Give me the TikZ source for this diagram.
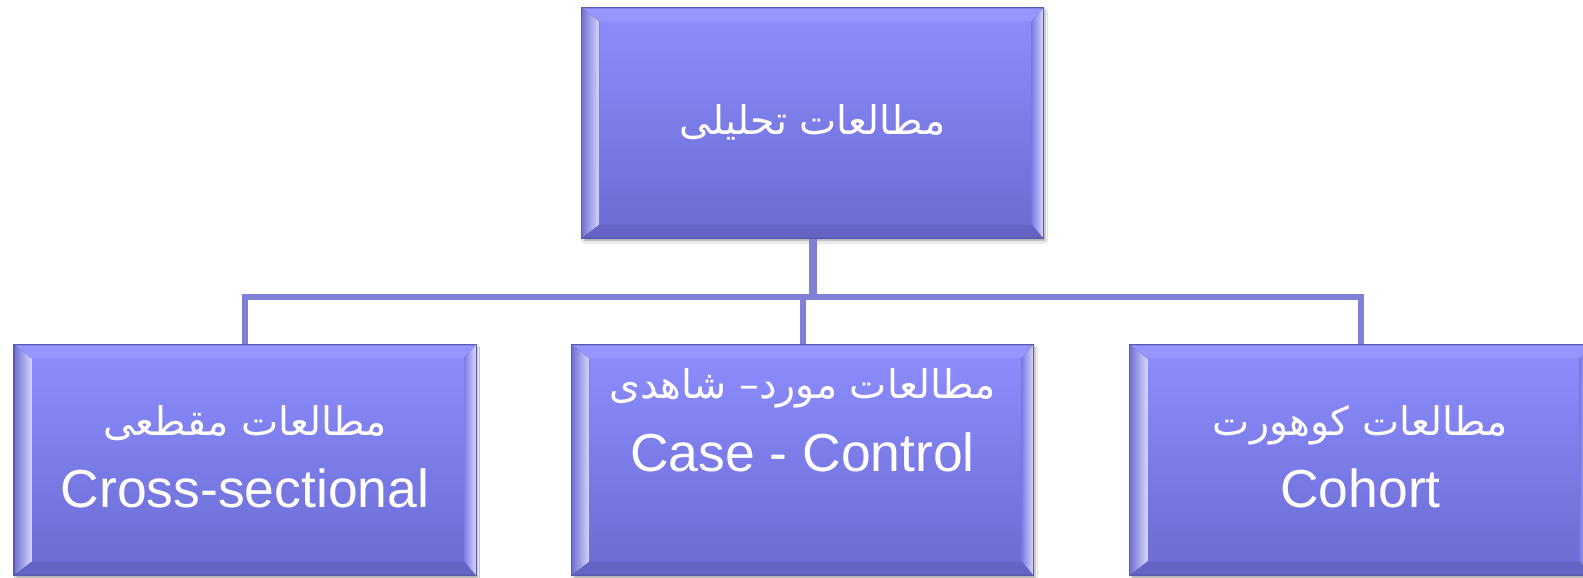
\documentclass[tikz,border=0pt]{standalone}
\usepackage{fontspec}
\setmainfont{Liberation Sans}
\newfontfamily\arabicfont[Script=Arabic]{DejaVu Sans}
\TeXXeTstate=1
\usetikzlibrary{calc,shadows.blur}
\definecolor{boxtop}{HTML}{8D8DFF}
\definecolor{boxbot}{HTML}{6B6BD2}
\definecolor{boxedge}{HTML}{5A5AB2}
\definecolor{linkc}{HTML}{7F7FD6}
\definecolor{bevlight}{HTML}{D6D6FB}
\definecolor{bevdark}{HTML}{6F6FD4}
\newcommand\bevelit[1]{%
  \fill[left color=bevdark, right color=bevlight]
    (#1.north west) -- (#1.south west) -- ($(#1.south west)+(18,14)$) -- ($(#1.north west)+(18,-14)$) -- cycle;
  \fill[left color=bevdark!60!boxtop, right color=bevlight]
    (#1.north east) -- (#1.south east) -- ($(#1.south east)+(-12,14)$) -- ($(#1.north east)+(-12,-14)$) -- cycle;
  \fill[boxtop!85!white, opacity=0.6]
    (#1.north west) -- (#1.north east) -- ($(#1.north east)+(-12,-14)$) -- ($(#1.north west)+(18,-14)$) -- cycle;
  \fill[boxbot!90!black, opacity=0.6]
    (#1.south west) -- (#1.south east) -- ($(#1.south east)+(-12,14)$) -- ($(#1.south west)+(18,14)$) -- cycle;
  \draw[boxedge, line width=1.2pt] (#1.north west) rectangle (#1.south east);
}
\begin{document}
\begin{tikzpicture}[x=1pt,y=1pt,
  bbox/.style={rectangle, minimum width=461pt, minimum height=230pt, inner sep=0pt,
    draw=boxedge, line width=1.2pt, top color=boxtop, bottom color=boxbot,
    blur shadow={shadow xshift=2pt, shadow yshift=-3pt, shadow blur steps=6, shadow opacity=35}},
  link/.style={draw=linkc, line width=6pt, line join=miter},
  lat/.style={text=white, font=\fontsize{53.5}{58}\selectfont, anchor=base, inner sep=0pt},
  ara/.style={text=white, font=\fontsize{39.5}{44}\selectfont\arabicfont, anchor=base, inner sep=0pt}]
\useasboundingbox (0,0) rectangle (1583,578);
\fill[white] (0,0) rectangle (1583,578);

\coordinate (bus) at (812.5,281);

\node[bbox] (top) at (812.5,455) {};
\node[bbox] (b1) at (245,118) {};
\node[bbox] (b2) at (802.5,118) {};
\node[bbox] (b3) at (1360.5,118) {};

\draw[link, line width=8pt] (top.south) -- (top.south |- bus);
\draw[link] (b1.north) |- (b3.north |- bus) -- (b3.north);
\draw[link] (b2.north) -- (b2.north |- bus);

\bevelit{top}
\bevelit{b1}
\bevelit{b2}
\bevelit{b3}

\node[ara] (t0) at (812.5,443) {\beginR مطالعات تحلیلی\endR};
\node[ara] (t1a) at (245,142) {\beginR مطالعات مقطعی\endR};
\node[lat] (t1b) at (245,70) {Cross-sectional};
\node[ara] (t2a) at (802.5,179) {\beginR مطالعات مورد– شاهدی\endR};
\node[lat] (t2b) at (802.5,106) {Case - Control};
\node[ara] (t3a) at (1360.5,142) {\beginR مطالعات کوهورت\endR};
\node[lat] (t3b) at (1360.5,70) {Cohort};
\end{tikzpicture}
\end{document}
